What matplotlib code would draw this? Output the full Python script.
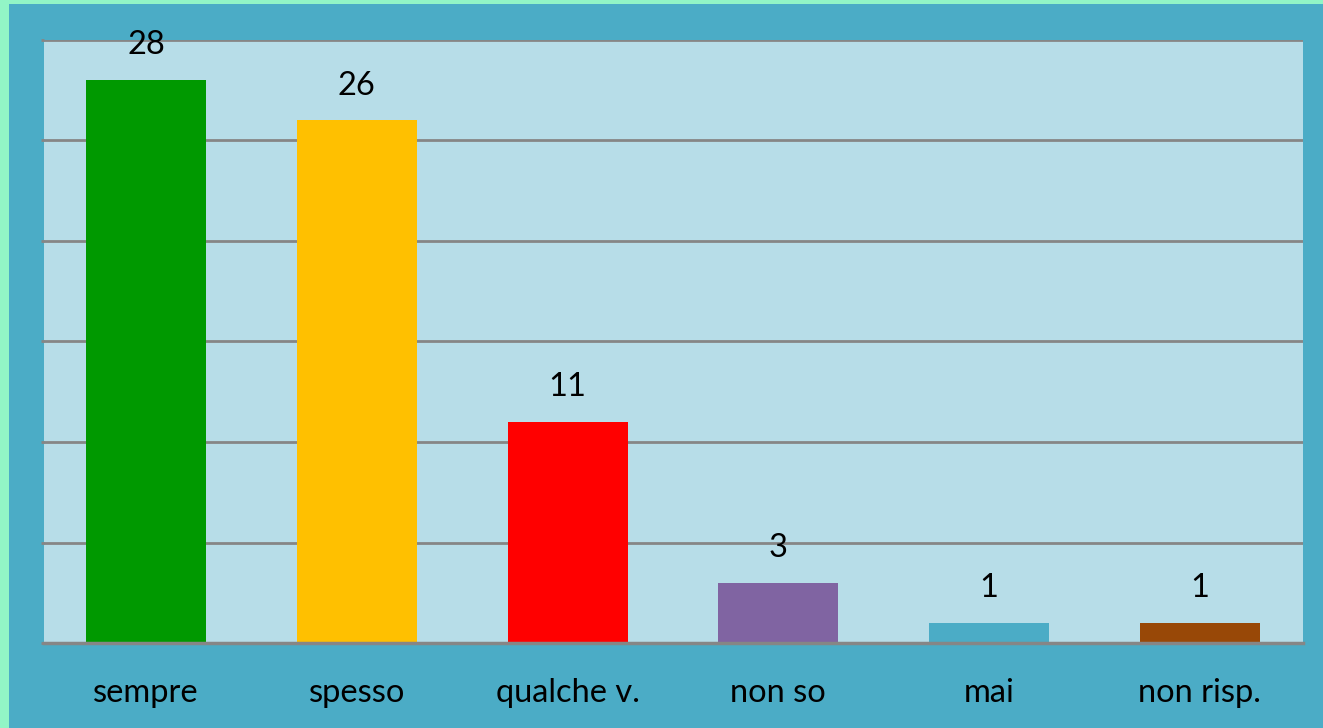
import matplotlib
matplotlib.use("Agg")
import matplotlib.pyplot as plt
from matplotlib.patches import Rectangle

categories = ["sempre", "spesso", "qualche v.", "non so", "mai", "non risp."]
values = [28, 26, 11, 3, 1, 1]
colors = ["#009900", "#FFC000", "#FF0000", "#8064A2", "#4BACC6", "#984807"]
yticks = [0, 5, 10, 15, 20, 25, 30]

plt.rcParams['font.family'] = ['Lato', 'DejaVu Sans']

W, H = 1323, 728
fig = plt.figure(figsize=(W / 100, H / 100), dpi=100, facecolor="#92F5C6")
fig.patches.append(Rectangle((9 / W, 0), 1 - 9 / W, 1 - 4 / H, transform=fig.transFigure,
                             facecolor="#4BACC6", edgecolor="none", zorder=-10))

ax = fig.add_axes([44 / W, 1 - 643 / H, (1303 - 44) / W, (643 - 40) / H])
ax.set_zorder(5)
ax.set_facecolor("#B7DDE8")
x = list(range(len(categories)))
bars = ax.bar(x, values, width=0.569, color=colors, zorder=3)
ax.set_xlim(-0.484, 5.489)
ax.set_ylim(0, 30)
ax.set_yticks(yticks)
ax.set_yticklabels([])
ax.yaxis.grid(True, color="#868686", linewidth=2, zorder=1)
ax.set_axisbelow(True)
for s in ["left", "right", "top"]:
    ax.spines[s].set_visible(False)
ax.spines["bottom"].set_color("#868686")
ax.spines["bottom"].set_linewidth(2.5)
ax.spines["bottom"].set_zorder(4)
ax.tick_params(axis="y", length=2, color="#868686", width=2)
ax.tick_params(axis="x", length=0, pad=25.5, labelsize=23.5)
ax.set_xticks(x)
ax.set_xticklabels(categories)

for xi, v in zip(x, values):
    ax.annotate(str(v), (xi, v), xytext=(0, 25), textcoords="offset points",
                ha="center", va="center", fontsize=23.5, color="black")

fig.savefig("out.png", dpi=100, facecolor=fig.get_facecolor())
